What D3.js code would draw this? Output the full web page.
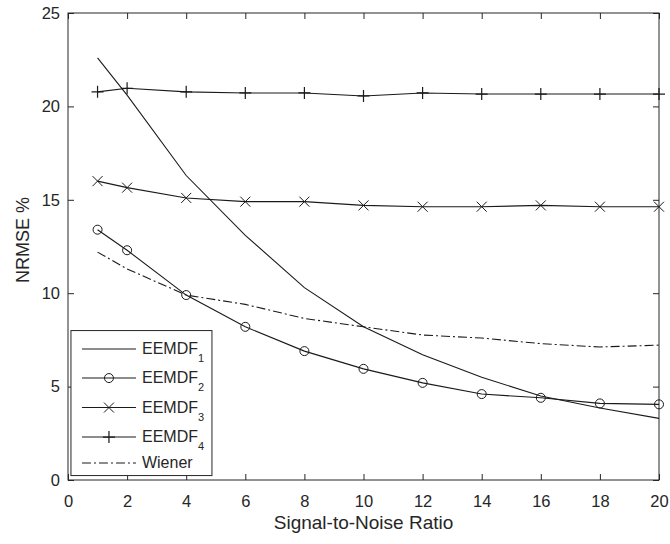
<!DOCTYPE html>
<html>
<head>
<meta charset="utf-8">
<script src="https://cdn.jsdelivr.net/npm/d3@7/dist/d3.min.js"></script>
<style>
  body { margin: 0; background: #fff; }
  svg { font-family: "Liberation Sans", Arial, sans-serif; }
</style>
</head>
<body>
<div class="canvas"></div>
<script>
const snr = [1, 2, 4, 6, 8, 10, 12, 14, 16, 18, 20];
const eemdf1 = [22.6, 20.6, 16.3, 13.1, 10.3, 8.2, 6.7, 5.5, 4.5, 3.85, 3.3];
const eemdf2 = [13.4, 12.3, 9.9, 8.2, 6.9, 5.95, 5.2, 4.6, 4.4, 4.1, 4.05];
const eemdf3 = [16.0, 15.65, 15.1, 14.9, 14.9, 14.7, 14.63, 14.63, 14.7, 14.63, 14.63];
const eemdf4 = [20.78, 20.97, 20.78, 20.72, 20.72, 20.56, 20.72, 20.66, 20.66, 20.66, 20.66];
const wiener = [12.2, 11.3, 9.9, 9.4, 8.65, 8.2, 7.76, 7.6, 7.3, 7.12, 7.22];
const xTicks = [0, 2, 4, 6, 8, 10, 12, 14, 16, 18, 20];
const yTicks = [0, 5, 10, 15, 20, 25];

const series = [
  { name: "EEMDF", sub: "1", values: eemdf1, marker: "none", dash: null },
  { name: "EEMDF", sub: "2", values: eemdf2, marker: "circle", dash: null },
  { name: "EEMDF", sub: "3", values: eemdf3, marker: "x", dash: null },
  { name: "EEMDF", sub: "4", values: eemdf4, marker: "plus", dash: null },
  { name: "Wiener", sub: null, values: wiener, marker: "none", dash: "9,3,2,3" }
];

const totalWidth = 670;
const totalHeight = 544;
const margin = { top: 13, right: 11, bottom: 64, left: 68 };
const graphWidth = totalWidth - margin.left - margin.right;
const graphHeight = totalHeight - margin.top - margin.bottom;
const axisColor = "#262626";
const lineColor = "#1a1a1a";

const svg = d3.select(".canvas")
  .append("svg")
  .attr("width", totalWidth)
  .attr("height", totalHeight);

const graph = svg.append("g")
  .attr("transform", `translate(${margin.left},${margin.top})`);

const x = d3.scaleLinear().domain([0, 20]).range([0, graphWidth]);
const y = d3.scaleLinear().domain([0, 25]).range([graphHeight, 0]);

// axes with inward ticks, box on all sides
const tickLen = 6;
const styleAxis = g => {
  g.select(".domain").remove();
  g.selectAll("line").attr("stroke", axisColor);
  g.selectAll("text").attr("fill", axisColor).style("font-size", "16.5px");
};

graph.append("g")
  .attr("transform", `translate(0,${graphHeight})`)
  .call(d3.axisBottom(x).tickValues(xTicks).tickSizeInner(-tickLen).tickSizeOuter(0).tickPadding(15))
  .call(styleAxis);
graph.append("g")
  .call(d3.axisTop(x).tickValues(xTicks).tickSizeInner(-tickLen).tickSizeOuter(0).tickFormat(""))
  .call(styleAxis);
graph.append("g")
  .call(d3.axisLeft(y).tickValues(yTicks).tickSizeInner(-tickLen).tickSizeOuter(0).tickPadding(8))
  .call(styleAxis);
graph.append("g")
  .attr("transform", `translate(${graphWidth},0)`)
  .call(d3.axisRight(y).tickValues(yTicks).tickSizeInner(-tickLen).tickSizeOuter(0).tickFormat(""))
  .call(styleAxis);

graph.append("rect")
  .attr("width", graphWidth)
  .attr("height", graphHeight)
  .attr("fill", "none")
  .attr("stroke", axisColor)
  .attr("stroke-width", 1);

// axis titles
svg.append("text")
  .attr("x", margin.left + graphWidth / 2)
  .attr("y", 529)
  .attr("text-anchor", "middle")
  .attr("fill", axisColor)
  .style("font-size", "19px")
  .text("Signal-to-Noise Ratio");

svg.append("text")
  .attr("transform", "translate(29,240) rotate(-90)")
  .attr("text-anchor", "middle")
  .attr("fill", axisColor)
  .style("font-size", "18px")
  .text("NRMSE %");

// marker drawing
function drawMarker(g, type, cx, cy) {
  if (type === "circle") {
    g.append("circle").attr("cx", cx).attr("cy", cy).attr("r", 4.5)
      .attr("fill", "none").attr("stroke", lineColor).attr("stroke-width", 1);
  } else if (type === "x") {
    const s = 5;
    g.append("path")
      .attr("d", `M${cx - s},${cy - s}L${cx + s},${cy + s}M${cx - s},${cy + s}L${cx + s},${cy - s}`)
      .attr("stroke", lineColor).attr("stroke-width", 1);
  } else if (type === "plus") {
    const s = 6;
    g.append("path")
      .attr("d", `M${cx - s},${cy}L${cx + s},${cy}M${cx},${cy - s}L${cx},${cy + s}`)
      .attr("stroke", lineColor).attr("stroke-width", 1.2);
  }
}

const line = d3.line()
  .x((d, i) => x(snr[i]))
  .y(d => y(d));

series.forEach(s => {
  graph.append("path")
    .datum(s.values)
    .attr("fill", "none")
    .attr("stroke", lineColor)
    .attr("stroke-width", 1.1)
    .attr("stroke-dasharray", s.dash)
    .attr("d", line);
  const mg = graph.append("g");
  s.values.forEach((v, i) => drawMarker(mg, s.marker, x(snr[i]), y(v)));
});

// legend
const legend = graph.append("g")
  .attr("transform", `translate(${x(0.1)},${y(8.0)})`);

legend.append("rect")
  .attr("width", 141)
  .attr("height", 145)
  .attr("fill", "#fff")
  .attr("stroke", axisColor)
  .attr("stroke-width", 1);

const rowY = [18.5, 47.5, 77, 106.5, 132.5];
series.forEach((s, i) => {
  const ry = rowY[i];
  legend.append("line")
    .attr("x1", 11).attr("x2", 65)
    .attr("y1", ry).attr("y2", ry)
    .attr("stroke", lineColor)
    .attr("stroke-width", 1.1)
    .attr("stroke-dasharray", s.dash);
  drawMarker(legend, s.marker, 38, ry);
  const t = legend.append("text")
    .attr("x", 71)
    .attr("y", ry + 5)
    .attr("fill", axisColor)
    .style("font-size", "16px")
    .text(s.name);
  if (s.sub) {
    t.append("tspan")
      .attr("dy", 8)
      .style("font-size", "11px")
      .text(s.sub);
  }
});
</script>
</body>
</html>
